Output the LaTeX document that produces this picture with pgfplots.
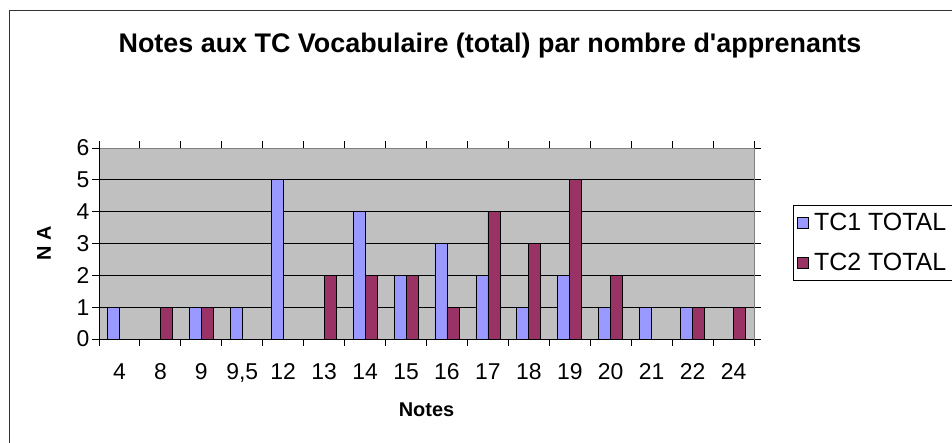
\documentclass[border=0pt]{standalone}
\usepackage{pgfplots}
\pgfplotsset{compat=1.18}
\usepackage{fontspec}
\setmainfont{Liberation Sans}[Ligatures=TeXOff]
\definecolor{tcone}{HTML}{9999FF}
\definecolor{tctwo}{HTML}{993366}
\definecolor{plotbg}{HTML}{C0C0C0}
\definecolor{frameg}{HTML}{808080}
\begin{document}
\begin{tikzpicture}
\useasboundingbox (0bp,0bp) rectangle (952bp,443bp);
\begin{scope}
\clip (0bp,0bp) rectangle (952bp,443bp);
\draw[black!80, line width=1bp] (9bp,-20bp) rectangle (980bp,432bp);
\node[font=\bfseries\fontsize{27}{31}\selectfont, anchor=base] at (490bp,390bp) {Notes aux TC Vocabulaire (total) par nombre d'apprenants};
\begin{axis}[
  at={(99bp,104bp)}, anchor=south west,
  scale only axis, width=655bp, height=191bp,
  ybar=0pt, bar width=12bp,
  xmin=-0.5, xmax=15.5, ymin=0, ymax=6,
  xtick={0,...,15},
  xticklabels={4,8,9,{9,5},12,13,14,15,16,17,18,19,20,21,22,24},
  major x tick style={draw=none},
  minor xtick={-0.5,0.5,...,15.5},
  minor x tick style={black, line width=1bp},
  minor tick length=7bp,
  ytick={0,...,6},
  major tick length=7bp,
  tick align=outside,
  y tick style={black, line width=1bp},
  ymajorgrids, major grid style={black, line width=0.8bp},
  axis background/.style={fill=plotbg},
  axis line style={draw=frameg, line width=1bp},
  ticklabel style={font=\fontsize{23}{26}\selectfont},
  /pgf/number format/assume math mode=true,
  xticklabel style={yshift=-14bp},
  yticklabel style={xshift=1bp},
  xlabel={\bfseries Notes}, ylabel={\bfseries N A},
  label style={font=\bfseries\fontsize{20}{24}\selectfont},
  xlabel style={at={(axis description cs:0.5,-0.372)}, anchor=center},
  ylabel style={at={(axis description cs:-0.084,0.5)}, anchor=center},
  legend style={at={(axis description cs:1.0595,0.7016)}, anchor=north west, draw=black, line width=0.8bp,
    font=\fontsize{25}{29}\selectfont, row sep=17bp, inner xsep=4bp, inner ysep=6bp,
    /tikz/every odd column/.append style={column sep=3bp}},
  legend cell align=left,
  legend image code/.code={\draw[#1, draw=black, line width=0.8bp] (0bp,-5.5bp) rectangle (11bp,5.5bp);},
  clip=false,
]
\addplot[fill=tcone, draw=black, line width=0.8bp] coordinates {(0,1) (1,0) (2,1) (3,1) (4,5) (5,0) (6,4) (7,2) (8,3) (9,2) (10,1) (11,2) (12,1) (13,1) (14,1) (15,0)};
\addplot[fill=tctwo, draw=black, line width=0.8bp] coordinates {(0,0) (1,1) (2,1) (3,0) (4,0) (5,2) (6,2) (7,2) (8,1) (9,4) (10,3) (11,5) (12,2) (13,0) (14,1) (15,1)};
\legend{TC1 TOTAL, TC2 TOTAL}
\draw[black, line width=1bp] (axis cs:-0.5,0) -- (axis cs:15.5,0);
\draw[black, line width=1bp] (axis cs:-0.5,0) -- (axis cs:-0.5,6);
\end{axis}
\end{scope}
\end{tikzpicture}
\end{document}
